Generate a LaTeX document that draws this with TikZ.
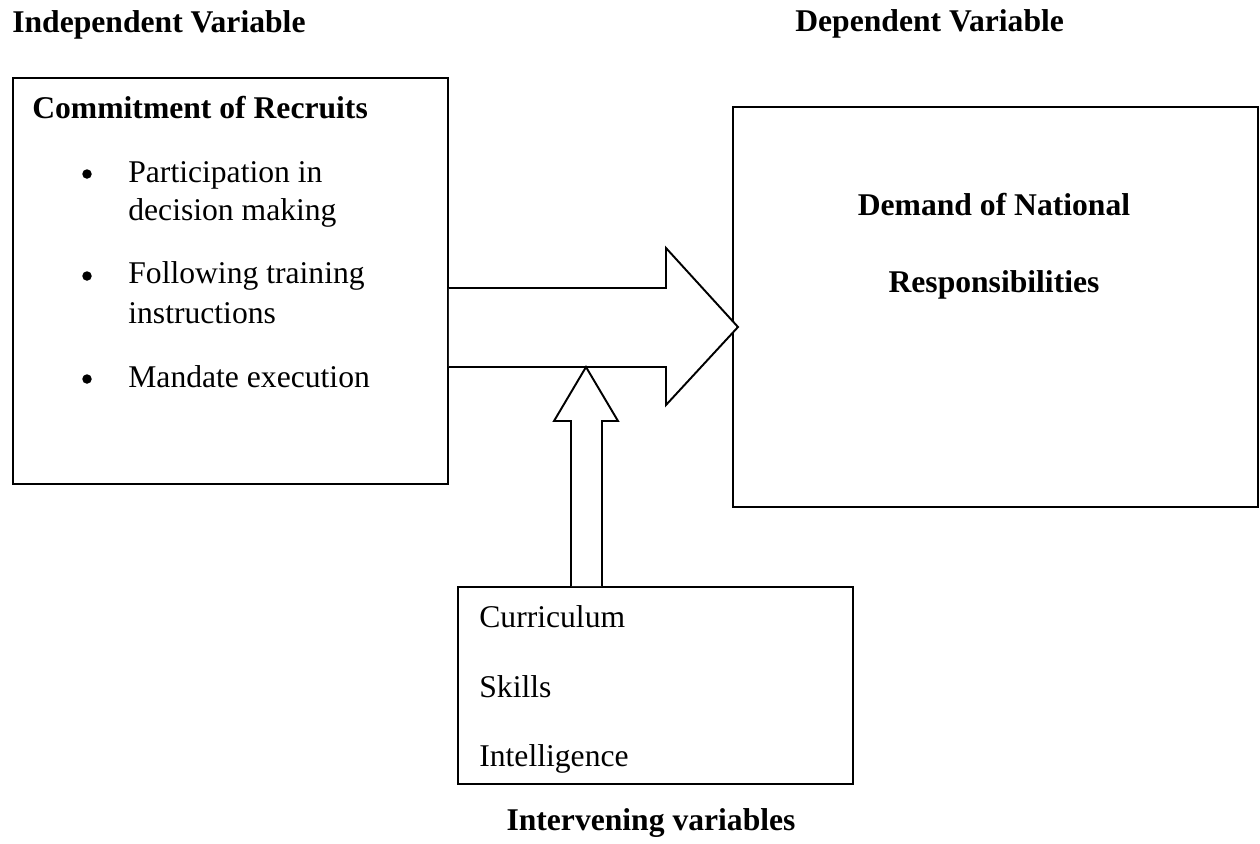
\documentclass[tikz,border=0pt]{standalone}
\usepackage{fontspec}
\setmainfont{Liberation Serif}
\usetikzlibrary{positioning,calc}
\definecolor{FrameBlack}{HTML}{000000}
\tikzset{
  vartitle/.style={font=\fontsize{18}{22}\selectfont\bfseries, anchor=base west, inner sep=0pt},
  centretitle/.style={font=\fontsize{18}{22}\selectfont\bfseries, anchor=base, inner sep=0pt},
  varbox/.style={draw=FrameBlack, line width=1.1pt, inner sep=0pt},
  itemtext/.style={font=\fontsize{18}{22}\selectfont, anchor=base west, inner sep=0pt},
  bulletmark/.style={circle, fill=FrameBlack, minimum size=0.19cm, inner sep=0pt},
  blockarrow/.style={draw=FrameBlack, line width=1.1pt, fill=white, line join=miter},
}

\begin{document}
\begin{tikzpicture}[x=0.02cm, y=-0.02cm]
  \useasboundingbox (0,0) rectangle (1260,843);

  % Headings
  \node[vartitle] (indeptitle) at (12,32) {Independent Variable};
  \node[vartitle] (deptitle) at (795,31) {Dependent Variable};

  % Independent variable
  \node[varbox, minimum width=8.7cm, minimum height=8.12cm] (recruits) at (230.5,281) {};
  \node[vartitle] (recruitstitle) at (32,118) {Commitment of Recruits};
  \node[bulletmark] (b1) at (87,174) {};
  \node[itemtext] (p1) at (128,182) {Participation in};
  \node[itemtext] (p1b) at (128,220) {decision making};
  \node[bulletmark] (b2) at (87,276) {};
  \node[itemtext] (p2) at (128,283) {Following training};
  \node[itemtext] (p2b) at (128,323) {instructions};
  \node[bulletmark] (b3) at (87,379) {};
  \node[itemtext] (p3) at (128,387) {Mandate execution};

  % Dependent variable
  \node[varbox, minimum width=10.5cm, minimum height=8cm] (demand) at (995.5,307) {};
  \node[centretitle] (demandtitle) at (994,215) {Demand of National};
  \node[centretitle] (demandtitleb) at (994,292) {Responsibilities};

  % Intervening variables
  \node[varbox, minimum width=7.9cm, minimum height=3.94cm] (interv) at (655.5,685.5) {};
  \node[itemtext] (curr) at (479,627) {Curriculum};
  \node[itemtext] (skills) at (479,697) {Skills};
  \node[itemtext] (intel) at (479,766) {Intelligence};
  \node[centretitle] (intervtitle) at (651,830) {Intervening variables};

  % Block arrows
  \draw[blockarrow] (recruits.east |- 0,288) -- (666,288) -- (666,248) -- (738,327)
        -- (666,405) -- (666,367) -- (recruits.east |- 0,367);
  \draw[blockarrow] (571,0 |- interv.north) -- (571,421) -- (554,421) -- (586,367)
        -- (618,421) -- (602,421) -- (602,0 |- interv.north);
\end{tikzpicture}
\end{document}
